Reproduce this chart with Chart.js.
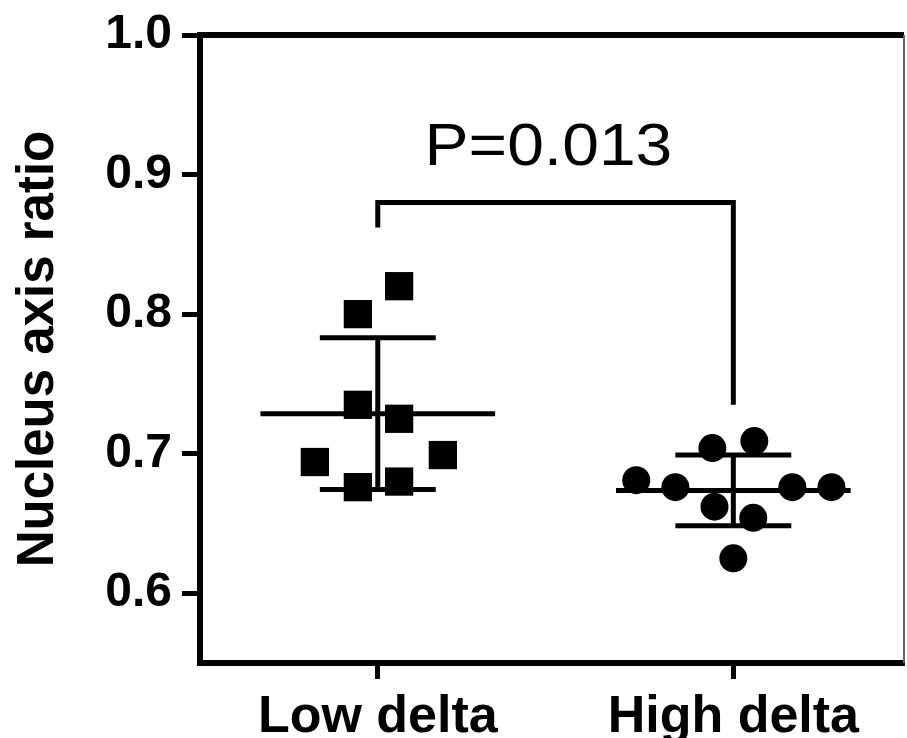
<!DOCTYPE html>
<html>
<head>
    <title>Nucleus axis ratio</title>
    <script src="https://cdn.jsdelivr.net/npm/chart.js"></script>
    <style>
        body { margin: 0; background: #fff; }
        #wrap { width: 907px; height: 738px; }
    </style>
</head>
<body>
    <div id="wrap">
        <canvas id="chart" width="907" height="738"></canvas>
    </div>

    <script>
        // Données
        const categories = ['Low delta', 'High delta'];
        const lowValues = [0.820, 0.800, 0.735, 0.725, 0.694, 0.699, 0.676, 0.680];
        const lowJitter = [0.06, -0.056, -0.056, 0.06, -0.177, 0.183, -0.056, 0.06];
        const highValues = [0.704, 0.709, 0.681, 0.676, 0.676, 0.676, 0.662, 0.654, 0.625];
        const highJitter = [-0.059, 0.059, -0.273, -0.163, 0.166, 0.276, -0.053, 0.056, 0];
        const yTicks = [0.6, 0.7, 0.8, 0.9, 1.0];
        const bracket = { y: 0.88, leftEnd: 0.862, rightEnd: 0.735 };
        const pLabel = 'P=0.013';

        const FONT = "'Liberation Sans', Arial, sans-serif";

        function mean(a) { return a.reduce((s, v) => s + v, 0) / a.length; }
        function sd(a) {
            const m = mean(a);
            return Math.sqrt(a.reduce((s, v) => s + (v - m) * (v - m), 0) / (a.length - 1));
        }

        // barres moyenne +/- écart-type
        function errorBars(xc, values) {
            const m = mean(values), s = sd(values);
            const segs = [
                [[xc - 0.33, m], [xc + 0.33, m]],
                [[xc - 0.163, m + s], [xc + 0.163, m + s]],
                [[xc - 0.163, m - s], [xc + 0.163, m - s]],
                [[xc, m - s], [xc, m + s]]
            ];
            return segs.map(seg => ({
                type: 'line',
                data: seg.map(p => ({ x: p[0], y: p[1] })),
                borderColor: '#000',
                borderWidth: 5,
                borderCapStyle: 'butt',
                pointRadius: 0,
                showLine: true,
                clip: false
            }));
        }

        const extras = {
            id: 'extras',
            afterDraw(chart) {
                const { ctx, chartArea, scales } = chart;
                ctx.save();
                // cadre haut et droite
                ctx.strokeStyle = '#000';
                ctx.lineWidth = 6;
                ctx.beginPath();
                ctx.moveTo(chartArea.left - 3, chartArea.top);
                ctx.lineTo(chartArea.right, chartArea.top);
                ctx.stroke();
                ctx.strokeStyle = '#666';
                ctx.lineWidth = 2;
                ctx.beginPath();
                ctx.moveTo(chartArea.right, chartArea.top);
                ctx.lineTo(chartArea.right, chartArea.bottom);
                ctx.stroke();
                // texte P
                const x = scales.x.getPixelForValue(0.48);
                const y = scales.y.getPixelForValue(0.9187);
                ctx.fillStyle = '#000';
                ctx.font = '60px ' + FONT;
                ctx.textAlign = 'center';
                ctx.textBaseline = 'middle';
                ctx.translate(x, y);
                ctx.scale(1.1, 1);
                ctx.fillText(pLabel, 0, 0);
                ctx.restore();
            }
        };

        const chart = new Chart(document.getElementById('chart'), {
            type: 'scatter',
            data: {
                datasets: [
                    {
                        data: lowValues.map((v, i) => ({ x: 0 + lowJitter[i], y: v })),
                        pointStyle: 'rect',
                        pointRadius: 20,
                        backgroundColor: '#000',
                        borderWidth: 0
                    },
                    {
                        data: highValues.map((v, i) => ({ x: 1 + highJitter[i], y: v })),
                        pointStyle: 'circle',
                        pointRadius: 14,
                        backgroundColor: '#000',
                        borderWidth: 0
                    },
                    ...errorBars(0, lowValues),
                    ...errorBars(1, highValues),
                    {
                        type: 'line',
                        data: [
                            { x: 0, y: bracket.leftEnd },
                            { x: 0, y: bracket.y },
                            { x: 1, y: bracket.y },
                            { x: 1, y: bracket.rightEnd }
                        ],
                        borderColor: '#000',
                        borderWidth: 5,
                        borderJoinStyle: 'miter',
                        borderCapStyle: 'butt',
                        pointRadius: 0,
                        showLine: true
                    }
                ]
            },
            options: {
                responsive: false,
                animation: false,
                layout: { autoPadding: false, padding: { top: 35, right: 3, left: 0, bottom: 0 } },
                plugins: { legend: { display: false }, tooltip: { enabled: false } },
                scales: {
                    x: {
                        type: 'linear',
                        min: -0.5,
                        max: 1.48,
                        afterBuildTicks: s => { s.ticks = categories.map((c, i) => ({ value: i })); },
                        afterFit: s => { s.height = 75; s.paddingLeft = 0; s.paddingRight = 0; },
                        ticks: {
                            callback: v => categories[v],
                            color: '#000',
                            font: { family: FONT, size: 52, weight: 'bold' },
                            padding: 7,
                            maxRotation: 0
                        },
                        grid: {
                            drawOnChartArea: false,
                            tickLength: 16,
                            tickWidth: 5,
                            tickColor: '#000'
                        },
                        border: { color: '#000', width: 6 }
                    },
                    y: {
                        min: 0.55,
                        max: 1.0,
                        afterBuildTicks: s => { s.ticks = yTicks.map(v => ({ value: v })); },
                        afterFit: s => { s.width = 200; s.paddingTop = 0; s.paddingBottom = 0; },
                        ticks: {
                            callback: v => v.toFixed(1),
                            color: '#000',
                            font: { family: FONT, size: 48, weight: 'bold' },
                            padding: 10
                        },
                        grid: {
                            drawOnChartArea: false,
                            tickLength: 18,
                            tickWidth: 5,
                            tickColor: '#000'
                        },
                        border: { color: '#000', width: 6 },
                        title: {
                            display: true,
                            text: 'Nucleus axis ratio',
                            color: '#000',
                            font: { family: FONT, size: 51, weight: 'bold' },
                            padding: { top: 8, bottom: 0 }
                        }
                    }
                }
            },
            plugins: [extras]
        });
    </script>
</body>
</html>
